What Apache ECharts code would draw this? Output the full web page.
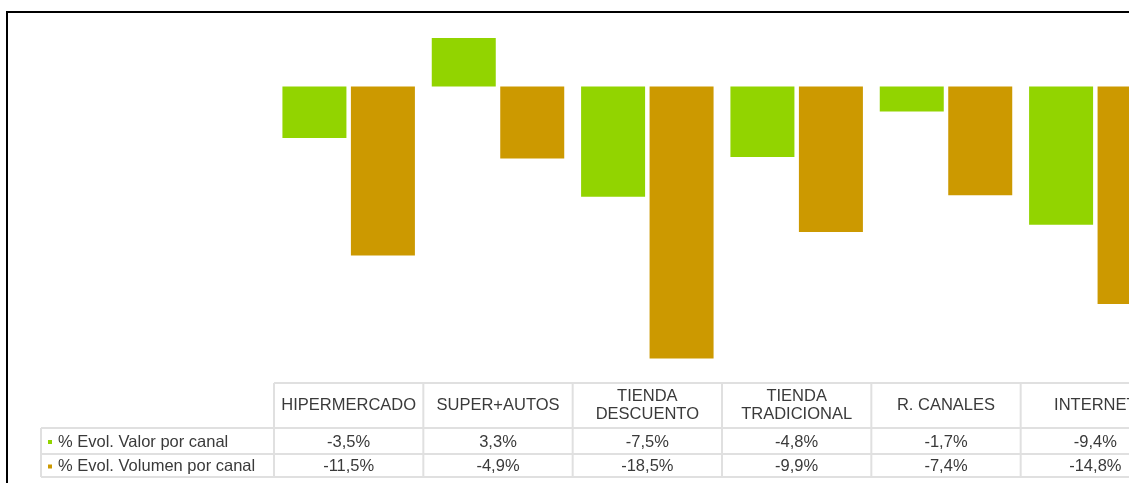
<!DOCTYPE html>
<html>
<head>
<meta charset="utf-8">
<script src="https://cdn.jsdelivr.net/npm/echarts@6/dist/echarts.min.js"></script>
<style>
  html, body { margin: 0; padding: 0; background: #fff; overflow: hidden; }
  #main { width: 1200px; height: 483px; }
</style>
</head>
<body>
<div id="main"></div>
<script>
// canales
const categories = ['HIPERMERCADO', 'SUPER+AUTOS', 'TIENDA\nDESCUENTO', 'TIENDA\nTRADICIONAL', 'R. CANALES', 'INTERNET'];
const seriesNames = ['% Evol. Valor por canal', '% Evol. Volumen por canal'];
const valor = [-3.5, 3.3, -7.5, -4.8, -1.7, -9.4];
const volumen = [-11.5, -4.9, -18.5, -9.9, -7.4, -14.8];
const colors = ['#92d400', '#cc9900'];

const FONT = '"Liberation Sans", Arial, sans-serif';
const TEXT = '#3a3a3a';
const LINE = '#e0e0e0';

function fmt(v) {
  return v.toFixed(1).replace('.', ',') + '%';
}

let chart = echarts.init(document.getElementById('main'));

let option = {
  animation: false,
  backgroundColor: '#fff',
  grid: { left: 274, top: 27.7, width: 896, height: 352.8 },
  xAxis: {
    type: 'category',
    data: categories,
    axisLine: { show: false },
    axisTick: { show: false },
    axisLabel: { show: false }
  },
  yAxis: {
    type: 'value',
    min: -20,
    max: 4,
    show: false,
    splitLine: { show: false }
  },
  series: [
    { name: seriesNames[0], type: 'bar', data: valor, barWidth: 64, barGap: '7%', itemStyle: { color: colors[0] } },
    { name: seriesNames[1], type: 'bar', data: volumen, barWidth: 64, barGap: '7%', itemStyle: { color: colors[1] } }
  ]
};
chart.setOption(option);

// tabla de datos debajo del grafico
let rowTop = [383, 428, 454, 477];
let legendLeft = 41;
let x0 = chart.convertToPixel({ xAxisIndex: 0 }, 0);
let x1 = chart.convertToPixel({ xAxisIndex: 0 }, 1);
let band = x1 - x0;
let tableLeft = x0 - band / 2;
let tableRight = tableLeft + band * categories.length;
let els = [];

function line(xa, ya, xb, yb) {
  els.push({ type: 'line', shape: { x1: xa, y1: ya, x2: xb, y2: yb }, style: { stroke: LINE, lineWidth: 2 }, silent: true });
}
function text(str, x, y, align, lh) {
  els.push({
    type: 'text', x: x, y: y,
    style: { text: str, fill: TEXT, font: '16.5px ' + FONT, align: align, verticalAlign: 'middle', lineHeight: lh || 18 },
    silent: true
  });
}

line(tableLeft, rowTop[0], tableRight, rowTop[0]);
for (let r = 1; r < rowTop.length; r++) {
  line(legendLeft, rowTop[r], tableRight, rowTop[r]);
}
line(legendLeft, rowTop[1], legendLeft, rowTop[3]);
for (let i = 0; i <= categories.length; i++) {
  let x = tableLeft + band * i;
  line(x, rowTop[0], x, rowTop[3]);
}
categories.forEach(function (c, i) {
  let cx = chart.convertToPixel({ xAxisIndex: 0 }, i);
  text(c, cx, (rowTop[0] + rowTop[1]) / 2, 'center', 18);
  text(fmt(valor[i]), cx, (rowTop[1] + rowTop[2]) / 2 + 1, 'center');
  text(fmt(volumen[i]), cx, (rowTop[2] + rowTop[3]) / 2 + 1, 'center');
});
[valor, volumen].forEach(function (d, s) {
  let cy = (rowTop[s + 1] + rowTop[s + 2]) / 2 + 1;
  els.push({ type: 'rect', shape: { x: 48, y: cy - 2, width: 4, height: 4 }, style: { fill: colors[s] }, silent: true });
  text(seriesNames[s], 58, cy, 'left');
});

// marco negro
els.push({ type: 'rect', shape: { x: 7, y: 12, width: 1300, height: 600 }, style: { fill: null, stroke: '#000', lineWidth: 2 }, silent: true });

chart.setOption({ graphic: { elements: els } });
</script>
</body>
</html>
